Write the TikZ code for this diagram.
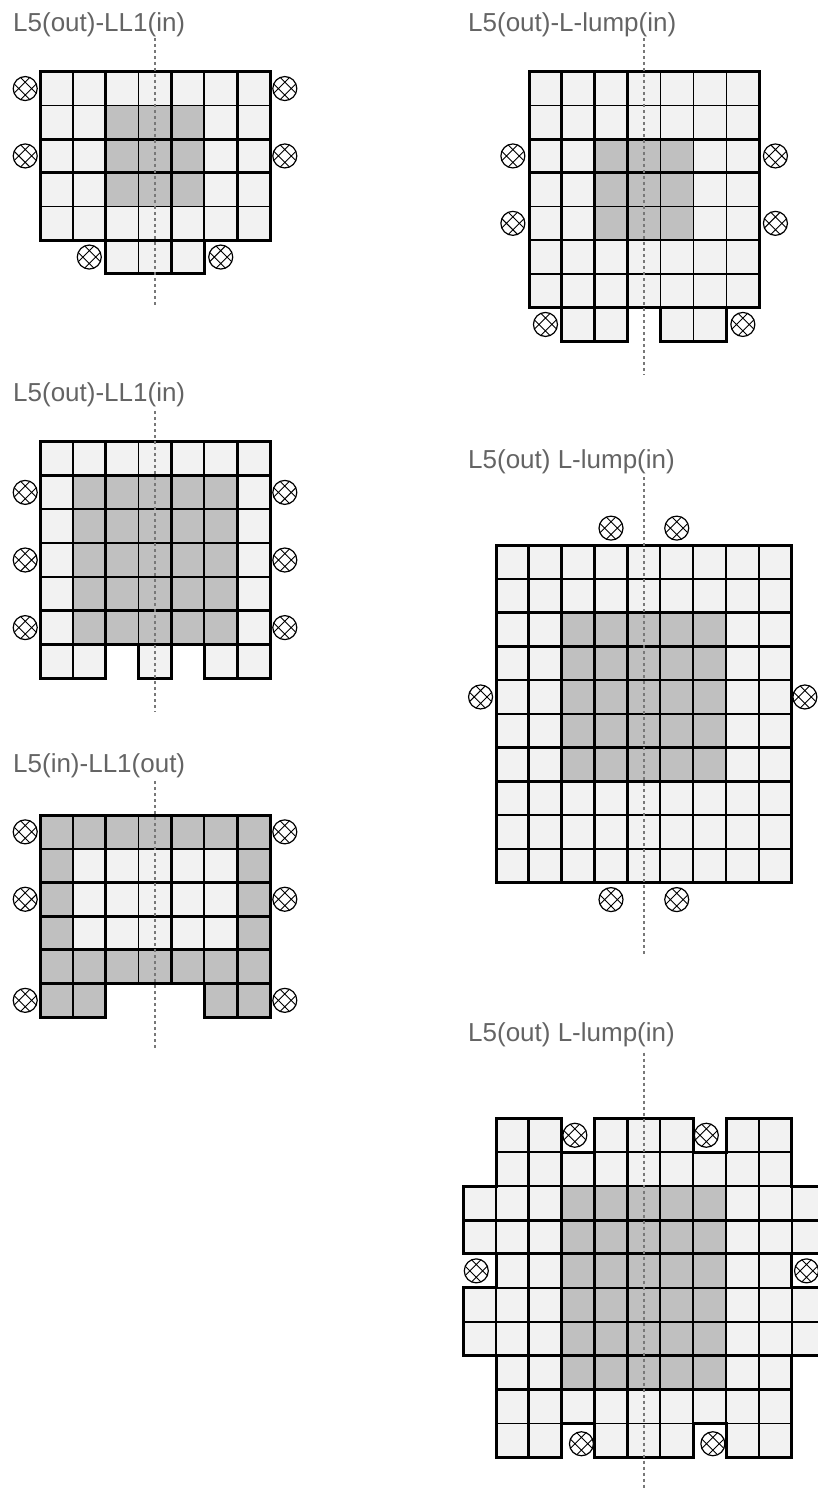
\documentclass[tikz,border=0pt]{standalone}
\usepackage{fontspec}
\setmainfont{Liberation Sans}
\usetikzlibrary{positioning}

\definecolor{cellfill}{HTML}{F2F2F2}
\definecolor{cellgrey}{HTML}{C0C0C0}
\definecolor{linegrey}{HTML}{787878}
\definecolor{textgrey}{HTML}{646464}

\tikzset{
  lightcell/.style={fill=cellfill, draw=black, line width=1.7pt},
  greycell/.style={fill=cellgrey, draw=black, line width=1.7pt},
  heavy/.style={draw=black, line width=3pt},
  centreline/.style={draw=linegrey, line width=1.5pt, dash pattern=on 3pt off 3pt},
  paneltitle/.style={anchor=base west, inner sep=0pt, text=textgrey, font=\fontsize{26}{30}\selectfont},
  coil/.style={circle, draw=black, line width=1.2pt, fill=white, minimum size=24pt, inner sep=0pt,
    path picture={
      \draw[line width=0.9pt, shift={(path picture bounding box.center)}]
        (-21.4pt,-15pt) -- (8.6pt,15pt) (-21.4pt,15pt) -- (8.6pt,-15pt)
        (-8.6pt,-15pt) -- (21.4pt,15pt) (-8.6pt,15pt) -- (21.4pt,-15pt);
    }}
}

\begin{document}
\begin{tikzpicture}[x=1pt, y=-1pt]
\useasboundingbox (0,0) rectangle (818,1490);
\clip (0,0) rectangle (818,1490);

% Panel 1: L5(out)-LL1(in)
\node[paneltitle] (p1title) at (13,31.7) {L5(out)-LL1(in)};
\begin{scope}[shift={(40pt,-71.7pt)}, x=32.86pt, y=-33.7pt]
  \foreach \r in {0,...,4} \foreach \c in {0,...,6} \filldraw[lightcell] (\c,\r) rectangle ++(1,1);
  \foreach \c in {2,3,4} \filldraw[lightcell] (\c,5) rectangle ++(1,1);
  \foreach \r in {1,2,3} \foreach \c in {2,3,4} \filldraw[greycell] (\c,\r) rectangle ++(1,1);
  \draw[heavy] (2,0) -- (2,6) (4,0) -- (4,6) (6,0) -- (6,5) (0,2) -- (7,2) (0,3) -- (7,3) (0,5) -- (7,5);
  \draw[heavy] (0,0) -- (7,0) -- (7,5) -- (5,5) -- (5,6) -- (2,6) -- (2,5) -- (0,5) -- cycle;
  \coordinate (p1top) at (3.5,-1);
  \coordinate (p1bot) at (3.5,7);
  \draw[centreline] (p1top) -- (p1bot);
  \node[coil] (p1l1) at (-0.45,0.5) {};
  \node[coil] (p1l2) at (-0.45,2.5) {};
  \node[coil] (p1r1) at (7.45,0.5) {};
  \node[coil] (p1r2) at (7.45,2.5) {};
  \node[coil] (p1b1) at (1.5,5.5) {};
  \node[coil] (p1b2) at (5.5,5.5) {};
\end{scope}

% Panel 2: L5(out)-L-lump(in)
\node[paneltitle] (p2title) at (468,31.7) {L5(out)-L-lump(in)};
\begin{scope}[shift={(529pt,-71.7pt)}, x=32.9pt, y=-33.7pt]
  \foreach \r in {0,...,6} \foreach \c in {0,...,6} \filldraw[lightcell] (\c,\r) rectangle ++(1,1);
  \foreach \c in {1,2,4,5} \filldraw[lightcell] (\c,7) rectangle ++(1,1);
  \foreach \r in {2,3,4} \foreach \c in {2,3,4} \filldraw[greycell] (\c,\r) rectangle ++(1,1);
  \draw[heavy] (1,0) -- (1,8) (2,0) -- (2,8) (3,0) -- (3,8) (0,2) -- (7,2) (0,3) -- (7,3) (0,7) -- (7,7);
  \draw[heavy] (0,0) -- (7,0) -- (7,7) -- (6,7) -- (6,8) -- (4,8) -- (4,7) -- (3,7) -- (3,8) -- (1,8) -- (1,7) -- (0,7) -- cycle;
  \coordinate (p2top) at (3.5,-1);
  \coordinate (p2bot) at (3.5,9);
  \draw[centreline] (p2top) -- (p2bot);
  \node[coil] (p2l1) at (-0.49,2.5) {};
  \node[coil] (p2l2) at (-0.49,4.5) {};
  \node[coil] (p2r1) at (7.49,2.5) {};
  \node[coil] (p2r2) at (7.49,4.5) {};
  \node[coil] (p2b1) at (0.5,7.5) {};
  \node[coil] (p2b2) at (6.5,7.5) {};
\end{scope}

% Panel 3: L5(out)-LL1(in)
\node[paneltitle] (p3title) at (13,401) {L5(out)-LL1(in)};
\begin{scope}[shift={(40pt,-441.7pt)}, x=32.86pt, y=-33.8pt]
  \foreach \r in {0,...,5} \foreach \c in {0,...,6} \filldraw[lightcell] (\c,\r) rectangle ++(1,1);
  \foreach \c in {0,1,3,5,6} \filldraw[lightcell] (\c,6) rectangle ++(1,1);
  \foreach \r in {1,...,5} \foreach \c in {1,...,5} \filldraw[greycell] (\c,\r) rectangle ++(1,1);
  \draw[heavy] (2,0) -- (2,7) (4,0) -- (4,7) (6,0) -- (6,7) (0,1) -- (7,1) (0,5) -- (7,5) (0,6) -- (7,6);
  \draw[heavy] (0,0) -- (7,0) -- (7,7) -- (5,7) -- (5,6) -- (4,6) -- (4,7) -- (3,7) -- (3,6) -- (2,6) -- (2,7) -- (0,7) -- cycle;
  \coordinate (p3top) at (3.5,-0.9);
  \coordinate (p3bot) at (3.5,8);
  \draw[centreline] (p3top) -- (p3bot);
  \foreach \r [count=\i] in {1.5,3.5,5.5} {
    \node[coil] (p3l\i) at (-0.45,\r) {};
    \node[coil] (p3r\i) at (7.45,\r) {};
  }
\end{scope}

% Panel 4: L5(in)-LL1(out)
\node[paneltitle] (p4title) at (13,772.3) {L5(in)-LL1(out)};
\begin{scope}[shift={(40pt,-815pt)}, x=32.86pt, y=-33.7pt]
  \foreach \r in {0,...,4} \foreach \c in {0,...,6} \filldraw[greycell] (\c,\r) rectangle ++(1,1);
  \foreach \c in {0,1,5,6} \filldraw[greycell] (\c,5) rectangle ++(1,1);
  \foreach \r in {1,2,3} \foreach \c in {1,...,5} \filldraw[lightcell] (\c,\r) rectangle ++(1,1);
  \draw[heavy] (2,0) -- (2,6) (4,0) -- (4,5) (6,0) -- (6,6) (0,2) -- (7,2) (0,3) -- (7,3) (0,4) -- (7,4) (0,5) -- (7,5);
  \draw[heavy] (0,0) -- (7,0) -- (7,6) -- (5,6) -- (5,5) -- (2,5) -- (2,6) -- (0,6) -- cycle;
  \coordinate (p4top) at (3.5,-1);
  \coordinate (p4bot) at (3.5,7);
  \draw[centreline] (p4top) -- (p4bot);
  \foreach \r [count=\i] in {0.5,2.5,5.5} {
    \node[coil] (p4l\i) at (-0.45,\r) {};
    \node[coil] (p4r\i) at (7.45,\r) {};
  }
\end{scope}

% Panel 5: L5(out) L-lump(in)
\node[paneltitle] (p5title) at (468,468.3) {L5(out) L-lump(in)};
\begin{scope}[shift={(496pt,-545pt)}, x=32.86pt, y=-33.77pt]
  \foreach \r in {0,...,9} \foreach \c in {0,...,8} \filldraw[lightcell] (\c,\r) rectangle ++(1,1);
  \foreach \r in {2,...,6} \foreach \c in {2,...,6} \filldraw[greycell] (\c,\r) rectangle ++(1,1);
  \draw[heavy] (1,0) -- (1,10) (2,0) -- (2,10) (3,0) -- (3,10) (4,0) -- (4,10);
  \draw[heavy] (0,2) -- (9,2) (0,3) -- (9,3) (0,6) -- (9,6) (0,7) -- (9,7);
  \draw[heavy] (0,0) rectangle (9,10);
  \coordinate (p5top) at (4.5,-2);
  \coordinate (p5bot) at (4.5,12.2);
  \draw[centreline] (p5top) -- (p5bot);
  \node[coil] (p5t1) at (3.5,-0.5) {};
  \node[coil] (p5t2) at (5.5,-0.5) {};
  \node[coil] (p5b1) at (3.5,10.5) {};
  \node[coil] (p5b2) at (5.5,10.5) {};
  \node[coil] (p5l) at (-0.47,4.5) {};
  \node[coil] (p5r) at (9.4,4.5) {};
\end{scope}

% Panel 6: L5(out) L-lump(in)
\node[paneltitle] (p6title) at (468,1041.7) {L5(out) L-lump(in)};
\begin{scope}[shift={(496pt,-1118.3pt)}, x=32.86pt, y=-33.9pt]
  \foreach \r in {1,...,8} \foreach \c in {0,...,8} \filldraw[lightcell] (\c,\r) rectangle ++(1,1);
  \foreach \r in {0,9} \foreach \c in {0,1,3,4,5,7,8} \filldraw[lightcell] (\c,\r) rectangle ++(1,1);
  \foreach \r in {2,3,5,6} \foreach \c in {-1,9} \filldraw[lightcell] (\c,\r) rectangle ++(1,1);
  \foreach \r in {2,...,7} \foreach \c in {2,...,6} \filldraw[greycell] (\c,\r) rectangle ++(1,1);
  \draw[heavy] (1,0) -- (1,10) (2,0) -- (2,10) (3,0) -- (3,10) (4,0) -- (4,10);
  \draw[heavy] (-1,3) -- (10,3) (0,4) -- (9,4) (0,7) -- (9,7) (0,8) -- (9,8);
  \draw[heavy] (0,0) -- (2,0) -- (2,1) -- (3,1) -- (3,0) -- (6,0) -- (6,1) -- (7,1) -- (7,0) -- (9,0)
    -- (9,2) -- (10,2) -- (10,4) -- (9,4) -- (9,5) -- (10,5) -- (10,7) -- (9,7) -- (9,10)
    -- (7,10) -- (7,9) -- (6,9) -- (6,10) -- (3,10) -- (3,9) -- (2,9) -- (2,10) -- (0,10)
    -- (0,7) -- (-1,7) -- (-1,5) -- (0,5) -- (0,4) -- (-1,4) -- (-1,2) -- (0,2) -- cycle;
  \coordinate (p6top) at (4.5,-1.94);
  \coordinate (p6bot) at (4.5,11.2);
  \draw[centreline] (p6top) -- (p6bot);
  \node[coil] (p6t1) at (2.4,0.5) {};
  \node[coil] (p6t2) at (6.4,0.5) {};
  \node[coil] (p6b1) at (2.6,9.6) {};
  \node[coil] (p6b2) at (6.6,9.6) {};
  \node[coil] (p6l) at (-0.6,4.5) {};
  \node[coil] (p6r) at (9.45,4.5) {};
\end{scope}

\end{tikzpicture}
\end{document}
